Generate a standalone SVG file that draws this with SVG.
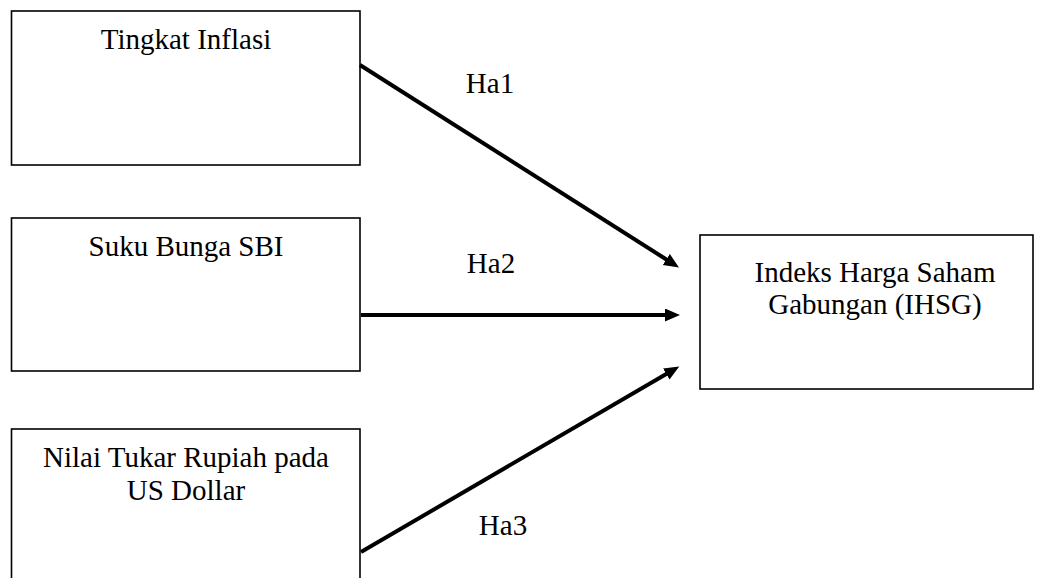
<svg xmlns="http://www.w3.org/2000/svg" width="1041" height="578" viewBox="0 0 1041 578">
<style>
.box{fill:#fff;stroke:#000;stroke-width:1.6}
.t{font-family:"Liberation Serif","Times New Roman",serif;font-size:29px;fill:#000;text-anchor:middle}
.c{stroke:#000;stroke-width:4;fill:none;marker-end:url(#ah)}
</style>
<defs>
<marker id="ah" markerUnits="userSpaceOnUse" markerWidth="16" markerHeight="14" refX="2" refY="6.5" orient="auto">
<path d="M0,0 L15,6.5 L0,13 Z" fill="#000"/>
</marker>
</defs>
<rect width="1041" height="578" fill="#fff"/>
<g id="n1"><rect class="box" x="11.5" y="11" width="348.5" height="154"/><text class="t" x="186" y="49">Tingkat Inflasi</text></g>
<g id="n2"><rect class="box" x="11.5" y="218" width="348.5" height="153"/><text class="t" x="186" y="256">Suku Bunga SBI</text></g>
<g id="n3"><rect class="box" x="11.5" y="429" width="348.5" height="200"/><text class="t" x="186" y="467">Nilai Tukar Rupiah pada</text><text class="t" x="186" y="500">US Dollar</text></g>
<g id="n4"><rect class="box" x="700" y="235" width="333" height="154"/><text class="t" x="875" y="282">Indeks Harga Saham</text><text class="t" x="875" y="314">Gabungan (IHSG)</text></g>
<g id="connectors">
<line class="c" x1="360" y1="65" x2="668" y2="260.5"/>
<line class="c" x1="361" y1="315" x2="667" y2="315"/>
<line class="c" x1="361" y1="552" x2="668" y2="373"/>
<text class="t" x="490" y="93">Ha1</text>
<text class="t" x="491" y="273">Ha2</text>
<text class="t" x="503" y="535">Ha3</text>
</g>
</svg>
